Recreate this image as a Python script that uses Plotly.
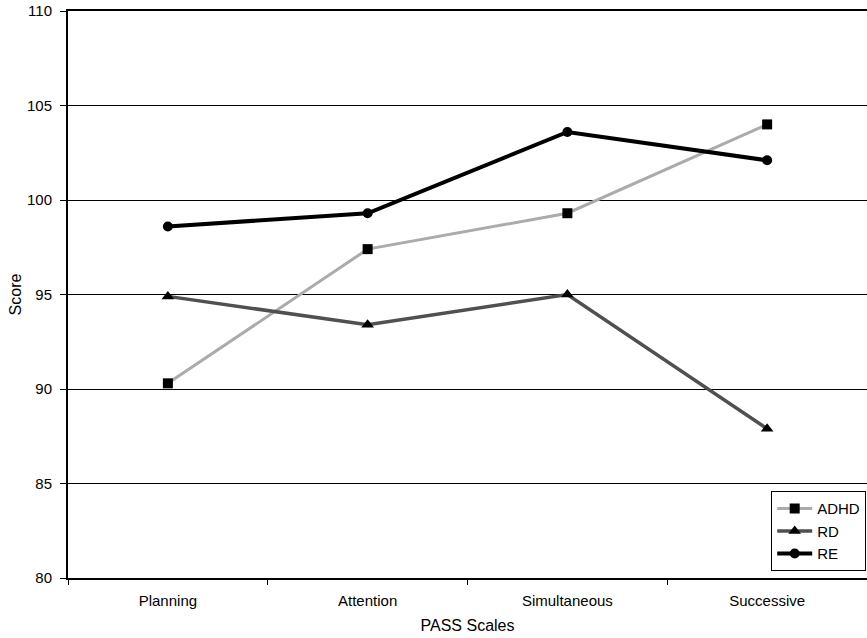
import plotly.graph_objects as go

categories = ["Planning", "Attention", "Simultaneous", "Successive"]
adhd = [90.3, 97.4, 99.3, 104.0]
rd = [94.9, 93.4, 95.0, 87.9]
re_ = [98.6, 99.3, 103.6, 102.1]
y_ticks = [80, 85, 90, 95, 100, 105, 110]

fig = go.Figure()
fig.add_trace(go.Scatter(x=categories, y=adhd, name="ADHD", mode="lines+markers",
                         legendgroup="a",
                         line=dict(color="#ababab", width=3),
                         marker=dict(symbol="square", size=10, color="black")))
fig.add_trace(go.Scatter(x=categories, y=rd, name="RD", mode="lines+markers",
                         legendgroup="b",
                         line=dict(color="#505050", width=3.5),
                         marker=dict(symbol="triangle-up", size=11, color="black")))
fig.add_trace(go.Scatter(x=categories, y=re_, name="RE", mode="lines+markers",
                         legendgroup="c",
                         line=dict(color="black", width=4),
                         marker=dict(symbol="circle", size=10, color="black")))

fig.update_layout(
    width=867, height=638,
    margin=dict(l=68, r=0, t=11, b=60, autoexpand=False),
    paper_bgcolor="white", plot_bgcolor="white",
    font=dict(family="Liberation Sans, Arial, sans-serif", size=15, color="black"),
    showlegend=True,
    legend=dict(x=0.999, xanchor="right", y=0.012, yanchor="bottom",
                bordercolor="black", borderwidth=1, bgcolor="white",
                font=dict(size=15), tracegroupgap=0, itemwidth=35),
    xaxis=dict(title=dict(text="PASS Scales", standoff=12, font=dict(size=16)), type="category",
               tickson="boundaries", ticks="outside", ticklen=5, tickcolor="black",
               ticklabelstandoff=8,
               showline=True, linecolor="black", linewidth=2, mirror=True, showgrid=False,
               range=[-0.5, 3.5], automargin=False),
    yaxis=dict(title=dict(text="Score", standoff=1, font=dict(size=16)), range=[80, 110],
               tickvals=y_ticks,
               ticks="outside", ticklen=6, tickcolor="black", ticklabelstandoff=5,
               showline=True, linecolor="black", linewidth=2,
               showgrid=True, gridcolor="black", gridwidth=1, zeroline=False,
               automargin=True),
)
fig.write_html("out.html", config={"displayModeBar": False},
               post_script="document.body.style.margin='0';")
